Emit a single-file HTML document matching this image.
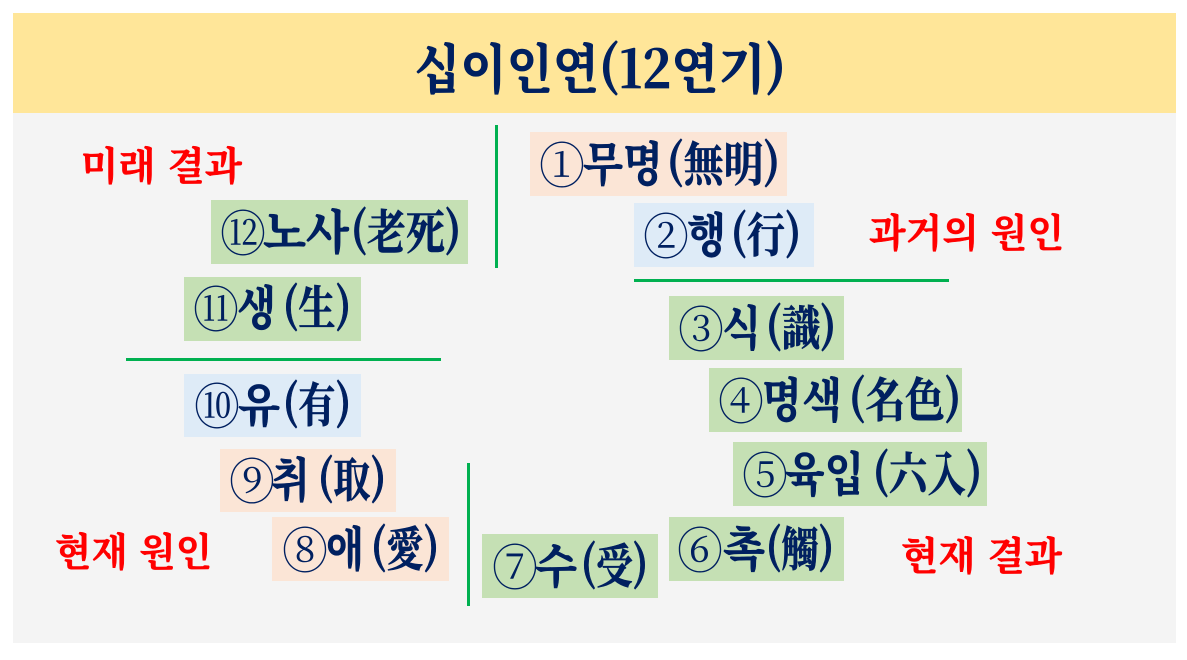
<!DOCTYPE html>
<html lang="ko">
<head>
<meta charset="utf-8">
<style>
html,body{margin:0;padding:0;background:#fff;width:1187px;height:660px;overflow:hidden}
svg{display:block}
text{font-family:"Noto Serif CJK SC","Noto Serif CJK KR","Liberation Serif","NanumGothic",serif;fill:#002060;stroke:#002060;stroke-width:.7px;font-weight:700;font-size:47px}
.n{font-weight:400;font-size:49px;stroke-width:0}
.r{fill:#ff0000;stroke:#ff0000;stroke-width:.5px;font-size:39px}
.t{font-size:53px;stroke-width:.8px}
</style>
</head>
<body>
<svg width="1187" height="660" viewBox="0 0 1187 660" xmlns="http://www.w3.org/2000/svg">
<rect x="13" y="113" width="1163" height="530" fill="#f4f4f4"/>
<rect x="13" y="13" width="1163" height="100" fill="#ffe699"/>

<rect x="530" y="132" width="257" height="64" fill="#fbe5d6"/>
<rect x="634" y="203" width="180" height="64" fill="#deebf7"/>
<rect x="669" y="296" width="175" height="64" fill="#c5e0b4"/>
<rect x="709" y="368" width="253" height="64" fill="#c5e0b4"/>
<rect x="733" y="442" width="254" height="64" fill="#c5e0b4"/>
<rect x="669" y="517" width="175" height="64" fill="#c5e0b4"/>
<rect x="482" y="534" width="176" height="64" fill="#c5e0b4"/>
<rect x="272" y="517" width="177" height="64" fill="#fbe5d6"/>
<rect x="220" y="449" width="176" height="63" fill="#fbe5d6"/>
<rect x="184" y="374" width="177" height="63" fill="#deebf7"/>
<rect x="184" y="277" width="177" height="64" fill="#c5e0b4"/>
<rect x="211" y="200" width="257" height="64" fill="#c5e0b4"/>

<rect x="495" y="125" width="3" height="143" fill="#00b050"/>
<rect x="634" y="279" width="315" height="3" fill="#00b050"/>
<rect x="126" y="358" width="315" height="3" fill="#00b050"/>
<rect x="467" y="463" width="3" height="143" fill="#00b050"/>

<text class="t" x="414" y="88" textLength="185" lengthAdjust="spacingAndGlyphs">십이인연</text>
<text class="t" x="599" y="88" textLength="187" lengthAdjust="spacingAndGlyphs">(12연기)</text>

<text class="r" x="81" y="180" textLength="161" lengthAdjust="spacingAndGlyphs">미래 결과</text>
<text class="r" x="869" y="247" textLength="195" lengthAdjust="spacingAndGlyphs">과거의 원인</text>
<text class="r" x="55" y="566" textLength="157" lengthAdjust="spacingAndGlyphs">현재 원인</text>
<text class="r" x="901" y="570" textLength="161" lengthAdjust="spacingAndGlyphs">현재 결과</text>

<text class="n" x="539" y="183" textLength="46" lengthAdjust="spacingAndGlyphs">①</text>
<text x="583" y="181" textLength="80" lengthAdjust="spacingAndGlyphs">무명</text>
<text x="667" y="181" textLength="113" lengthAdjust="spacingAndGlyphs">(無明)</text>

<text class="n" x="643" y="254" textLength="46" lengthAdjust="spacingAndGlyphs">②</text>
<text x="687" y="252" textLength="39" lengthAdjust="spacingAndGlyphs">행</text>
<text x="731" y="252" textLength="70" lengthAdjust="spacingAndGlyphs">(行)</text>

<text class="n" x="678" y="347" textLength="46" lengthAdjust="spacingAndGlyphs">③</text>
<text x="722" y="345" textLength="39" lengthAdjust="spacingAndGlyphs">식</text>
<text x="766" y="345" textLength="70" lengthAdjust="spacingAndGlyphs">(識)</text>

<text class="n" x="718" y="419" textLength="46" lengthAdjust="spacingAndGlyphs">④</text>
<text x="762" y="417" textLength="80" lengthAdjust="spacingAndGlyphs">명색</text>
<text x="849" y="417" textLength="112" lengthAdjust="spacingAndGlyphs">(名色)</text>

<text class="n" x="742" y="493" textLength="46" lengthAdjust="spacingAndGlyphs">⑤</text>
<text x="785" y="491" textLength="79" lengthAdjust="spacingAndGlyphs">육입</text>
<text x="873" y="491" textLength="109" lengthAdjust="spacingAndGlyphs">(六入)</text>

<text class="n" x="677" y="568" textLength="46" lengthAdjust="spacingAndGlyphs">⑥</text>
<text x="723" y="566" textLength="42" lengthAdjust="spacingAndGlyphs">촉</text>
<text x="766" y="566" textLength="68" lengthAdjust="spacingAndGlyphs">(觸)</text>

<text class="n" x="492" y="585" textLength="46" lengthAdjust="spacingAndGlyphs">⑦</text>
<text x="535" y="583" textLength="42" lengthAdjust="spacingAndGlyphs">수</text>
<text x="581" y="583" textLength="67" lengthAdjust="spacingAndGlyphs">(受)</text>

<text class="n" x="282" y="568" textLength="46" lengthAdjust="spacingAndGlyphs">⑧</text>
<text x="326" y="566" textLength="38" lengthAdjust="spacingAndGlyphs">애</text>
<text x="371" y="566" textLength="68" lengthAdjust="spacingAndGlyphs">(愛)</text>

<text class="n" x="229" y="499" textLength="46" lengthAdjust="spacingAndGlyphs">⑨</text>
<text x="271" y="497" textLength="39" lengthAdjust="spacingAndGlyphs">취</text>
<text x="318" y="497" textLength="68" lengthAdjust="spacingAndGlyphs">(取)</text>

<text class="n" x="194" y="424" textLength="46" lengthAdjust="spacingAndGlyphs">⑩</text>
<text x="238" y="422" textLength="42" lengthAdjust="spacingAndGlyphs">유</text>
<text x="283" y="422" textLength="68" lengthAdjust="spacingAndGlyphs">(有)</text>

<text class="n" x="193" y="327" textLength="46" lengthAdjust="spacingAndGlyphs">⑪</text>
<text x="237" y="325" textLength="39" lengthAdjust="spacingAndGlyphs">생</text>
<text x="283" y="325" textLength="68" lengthAdjust="spacingAndGlyphs">(生)</text>

<text class="n" x="220" y="251" textLength="46" lengthAdjust="spacingAndGlyphs">⑫</text>
<text x="263" y="249" textLength="86" lengthAdjust="spacingAndGlyphs">노사</text>
<text x="351" y="249" textLength="110" lengthAdjust="spacingAndGlyphs">(老死)</text>
</svg>
</body>
</html>
